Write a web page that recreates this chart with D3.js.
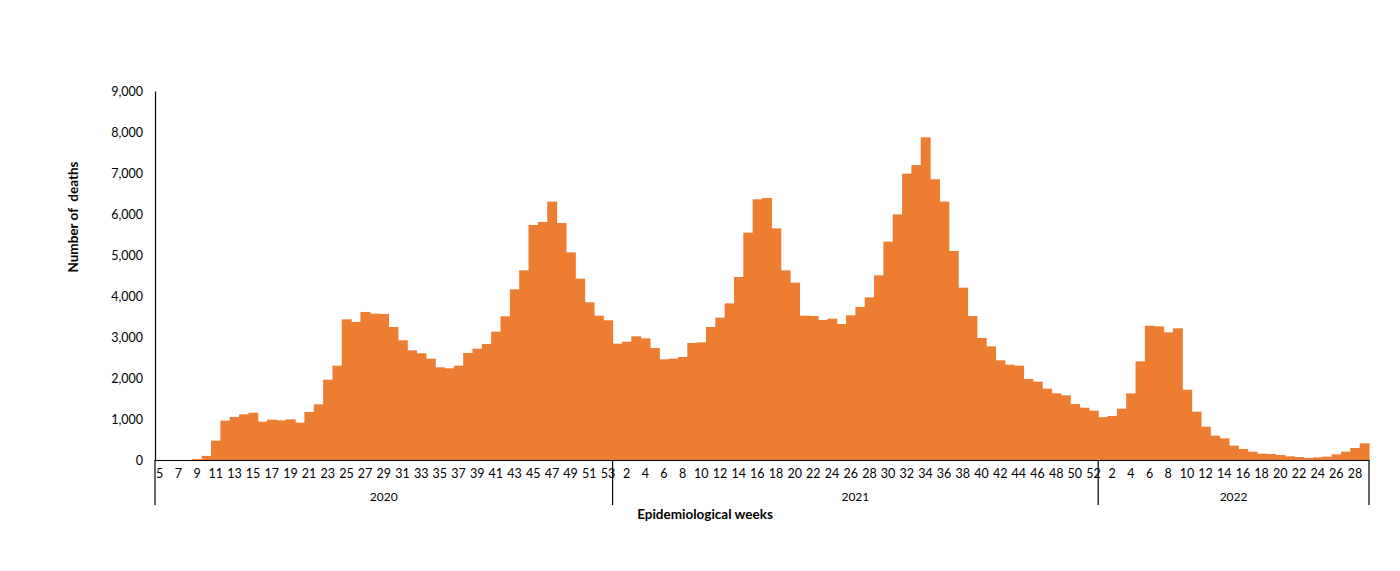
<!DOCTYPE html>
<html>
<head>
<meta charset="utf-8">
<script src="https://cdn.jsdelivr.net/npm/d3@7"></script>
<style>
  html, body { margin: 0; padding: 0; background: #fff; }
  svg { display: block; }
  text { font-family: Lato, "Open Sans", sans-serif; fill: #000; }
</style>
</head>
<body>
<svg id="chart" width="1400" height="571"></svg>
<script>
// ---- Data ----
const years = ["2020", "2021", "2022"];
const weeks2020 = [5,6,7,8,9,10,11,12,13,14,15,16,17,18,19,20,21,22,23,24,25,26,27,28,29,30,31,32,33,34,35,36,37,38,39,40,41,42,43,44,45,46,47,48,49,50,51,52,53];
const weeks2021 = [1,2,3,4,5,6,7,8,9,10,11,12,13,14,15,16,17,18,19,20,21,22,23,24,25,26,27,28,29,30,31,32,33,34,35,36,37,38,39,40,41,42,43,44,45,46,47,48,49,50,51,52];
const weeks2022 = [1,2,3,4,5,6,7,8,9,10,11,12,13,14,15,16,17,18,19,20,21,22,23,24,25,26,27,28,29];

const deaths2020 = [0,0,0,0,25,100,472,960,1049,1114,
  1154,935,984,967,992,911,1171,1358,1959,2301,
  3431,3366,3610,3569,3561,3244,2919,2675,2602,2472,
  2260,2236,2301,2610,2715,2829,3130,3504,4163,4626,
  5732,5805,6301,5780,5065,4423,3846,3520,3407];
const deaths2021 = [2837,2886,3016,2967,2732,2455,2472,2512,2854,2870,
  3244,3472,3821,4463,5545,6358,6390,5650,4626,4325,
  3520,3512,3415,3447,3317,3528,3732,3967,4504,5325,
  5992,6984,7195,7870,6846,6301,5098,4203,3512,2976,
  2772,2431,2325,2301,1976,1911,1740,1626,1577,1366,
  1276,1203];
const deaths2022 = [1045,1073,1252,1626,2407,3276,3260,3114,3211,1715,
  1179,813,593,528,350,268,203,154,146,122,
  89,73,49,65,81,138,203,293,407];

const labels2020 = [5,7,9,11,13,15,17,19,21,23,25,27,29,31,33,35,37,39,41,43,45,47,49,51,53];
const labels2021 = [2,4,6,8,10,12,14,16,18,20,22,24,26,28,30,32,34,36,38,40,42,44,46,48,50,52];
const labels2022 = [2,4,6,8,10,12,14,16,18,20,22,24,26,28];
const yTicks = [0,1000,2000,3000,4000,5000,6000,7000,8000,9000];

const yLabel = "Number of  deaths";
const xLabel = "Epidemiological weeks";

// ---- Build table ----
const weekSets = [weeks2020, weeks2021, weeks2022];
const deathSets = [deaths2020, deaths2021, deaths2022];
const labelSets = [labels2020, labels2021, labels2022];
const rows = [];
weekSets.forEach((ws, yi) => ws.forEach((w, i) => rows.push({ key: years[yi] + "-" + w, year: years[yi], week: w, value: deathSets[yi][i] })));

// ---- Layout ----
const plotLeft = 155, plotRight = 1369, plotTop = 91, plotBottom = 460;
const svg = d3.select("#chart");

const x = d3.scaleBand().domain(rows.map(d => d.key)).range([plotLeft, plotRight]).padding(0);
const y = d3.scaleLinear().domain([0, 9000]).range([plotBottom, plotTop]);

// bars
svg.append("g").selectAll("rect").data(rows).join("rect")
  .attr("x", d => x(d.key))
  .attr("y", d => y(d.value))
  .attr("width", x.bandwidth() + 0.6)
  .attr("height", d => y(0) - y(d.value))
  .attr("fill", "#ED7D31");

// y axis
const yAxis = svg.append("g").attr("transform", `translate(${plotLeft},0)`)
  .call(d3.axisLeft(y).tickValues(yTicks).tickFormat(d3.format(",")).tickSize(0).tickPadding(12));
yAxis.select(".domain").attr("stroke", "#000").attr("stroke-width", 1.2);
yAxis.selectAll("text").attr("font-size", 12.5).style("font-family", "Lato, 'Open Sans', sans-serif");

// x axis (week labels)
const tickKeys = [];
labelSets.forEach((ls, yi) => ls.forEach(w => tickKeys.push(years[yi] + "-" + w)));
const xAxis = svg.append("g").attr("transform", `translate(0,${plotBottom})`)
  .call(d3.axisBottom(x).tickValues(tickKeys).tickFormat(k => k.split("-")[1]).tickSize(0).tickPadding(9));
xAxis.select(".domain").attr("stroke", "#000").attr("stroke-width", 1.2);
xAxis.selectAll("text").attr("font-size", 12.5).style("font-family", "Lato, 'Open Sans', sans-serif");

// year dividers and labels
const yearStarts = years.map(yr => rows.find(r => r.year === yr).key);
const yearEnds = years.map(yr => rows.filter(r => r.year === yr).slice(-1)[0].key);
const dividerXs = yearStarts.map(k => x(k)).concat([x(yearEnds[yearEnds.length - 1]) + x.bandwidth()]);
svg.append("g").selectAll("line").data(dividerXs).join("line")
  .attr("x1", d => d).attr("x2", d => d)
  .attr("y1", plotBottom).attr("y2", 505)
  .attr("stroke", "#000").attr("stroke-width", 1.2);

svg.append("g").selectAll("text").data(years).join("text")
  .attr("x", (yr, i) => (x(yearStarts[i]) + x(yearEnds[i]) + x.bandwidth()) / 2)
  .attr("y", 501)
  .attr("text-anchor", "middle")
  .attr("font-size", 12)
  .text(d => d);

// axis titles
svg.append("text")
  .attr("x", 705).attr("y", 519)
  .attr("text-anchor", "middle")
  .attr("font-size", 13.5).attr("font-weight", "bold")
  .text(xLabel);

svg.append("text")
  .attr("transform", "translate(78,217) rotate(-90)")
  .attr("text-anchor", "middle")
  .attr("font-size", 13.5).attr("font-weight", "bold")
  .attr("xml:space", "preserve").style("white-space", "pre")
  .text(yLabel);
</script>
</body>
</html>
